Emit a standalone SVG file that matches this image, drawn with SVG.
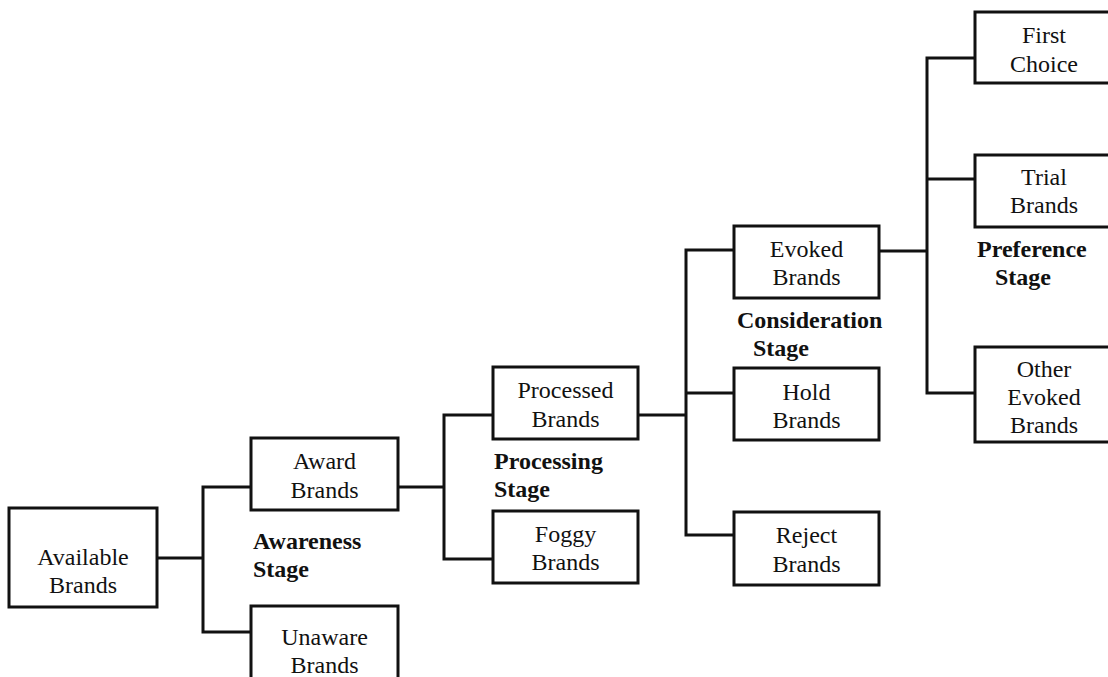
<svg xmlns="http://www.w3.org/2000/svg" width="1108" height="677" viewBox="0 0 1108 677">
  <style>
    .box { fill: #ffffff; stroke: #111111; stroke-width: 3; }
    .wire { fill: none; stroke: #111111; stroke-width: 3; stroke-linejoin: miter; stroke-linecap: square; }
    .lbl { font-family: "Liberation Serif", "Times New Roman", serif; font-size: 24px; fill: #111111; text-anchor: middle; }
    .stage { font-family: "Liberation Serif", "Times New Roman", serif; font-size: 24px; font-weight: bold; fill: #111111; }
  </style>
  <rect width="1108" height="677" fill="#ffffff"/>

  <!-- tree connectors -->
  <g id="connectors">
    <path class="wire" d="M157,558 H203 M203,487 V632 M203,487 H251 M203,632 H251"/>
    <path class="wire" d="M398,487 H444 M444,415 V559 M444,415 H493 M444,559 H493"/>
    <path class="wire" d="M638,415 H686 M686,250 V535 M686,250 H734 M686,393 H734 M686,535 H734"/>
    <path class="wire" d="M879,251 H927 M927,58 V393 M927,58 H975 M927,179 H975 M927,393 H975"/>
  </g>

  <g id="available">
    <rect class="box" x="9" y="508" width="148" height="99"/>
    <text class="lbl" x="83" y="565">Available</text>
    <text class="lbl" x="83" y="593">Brands</text>
  </g>

  <g id="award">
    <rect class="box" x="251" y="438" width="147" height="72"/>
    <text class="lbl" x="324.5" y="469">Award</text>
    <text class="lbl" x="324.5" y="498">Brands</text>
  </g>

  <g id="unaware">
    <rect class="box" x="251" y="606" width="147" height="90"/>
    <text class="lbl" x="324.5" y="645">Unaware</text>
    <text class="lbl" x="324.5" y="673">Brands</text>
  </g>

  <g id="processed">
    <rect class="box" x="493" y="367" width="145" height="72"/>
    <text class="lbl" x="565.5" y="398">Processed</text>
    <text class="lbl" x="565.5" y="427">Brands</text>
  </g>

  <g id="foggy">
    <rect class="box" x="493" y="511" width="145" height="72"/>
    <text class="lbl" x="565.5" y="542">Foggy</text>
    <text class="lbl" x="565.5" y="570">Brands</text>
  </g>

  <g id="evoked">
    <rect class="box" x="734" y="226" width="145" height="72"/>
    <text class="lbl" x="806.5" y="257">Evoked</text>
    <text class="lbl" x="806.5" y="285">Brands</text>
  </g>

  <g id="hold">
    <rect class="box" x="734" y="368" width="145" height="72"/>
    <text class="lbl" x="806.5" y="400">Hold</text>
    <text class="lbl" x="806.5" y="428">Brands</text>
  </g>

  <g id="reject">
    <rect class="box" x="734" y="512" width="145" height="73"/>
    <text class="lbl" x="806.5" y="543">Reject</text>
    <text class="lbl" x="806.5" y="572">Brands</text>
  </g>

  <g id="first-choice">
    <rect class="box" x="975" y="12" width="150" height="71"/>
    <text class="lbl" x="1044" y="43">First</text>
    <text class="lbl" x="1044" y="72">Choice</text>
  </g>

  <g id="trial">
    <rect class="box" x="975" y="155" width="150" height="72"/>
    <text class="lbl" x="1044" y="185">Trial</text>
    <text class="lbl" x="1044" y="213">Brands</text>
  </g>

  <g id="other-evoked">
    <rect class="box" x="975" y="347" width="150" height="95"/>
    <text class="lbl" x="1044" y="377">Other</text>
    <text class="lbl" x="1044" y="405">Evoked</text>
    <text class="lbl" x="1044" y="433">Brands</text>
  </g>

  <!-- stage captions -->
  <g id="stage-labels">
    <text class="stage" x="253" y="549">Awareness</text>
    <text class="stage" x="253" y="577">Stage</text>
    <text class="stage" x="494" y="469">Processing</text>
    <text class="stage" x="494" y="497">Stage</text>
    <text class="stage" x="737" y="328">Consideration</text>
    <text class="stage" x="753" y="356">Stage</text>
    <text class="stage" x="977" y="257">Preference</text>
    <text class="stage" x="995" y="285">Stage</text>
  </g>
</svg>
